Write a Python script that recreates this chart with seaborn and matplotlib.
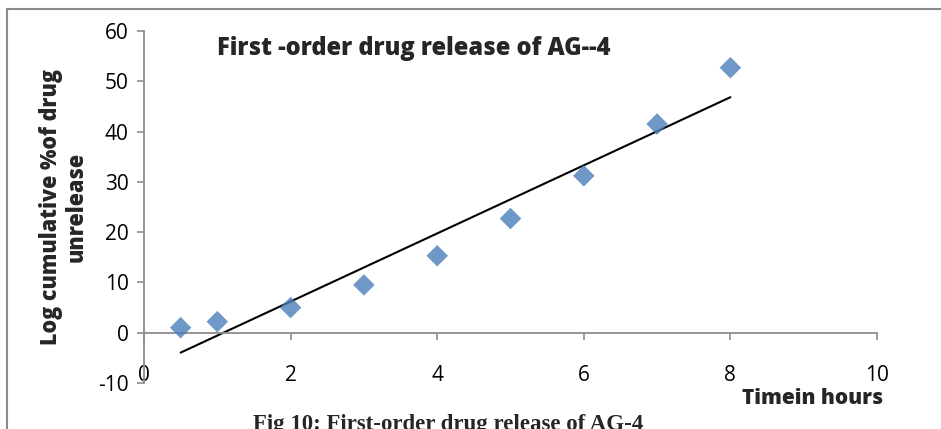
import matplotlib
matplotlib.use("Agg")
import matplotlib.pyplot as plt
import seaborn as sns
import pandas as pd
from matplotlib.lines import Line2D

time_hours = [0.5, 1, 2, 3, 4, 5, 6, 7, 8]
log_unreleased = [1.0, 2.2, 5.0, 9.5, 15.3, 22.7, 31.2, 41.5, 52.7]
x_ticks = [0, 2, 4, 6, 8, 10]
y_ticks = [-10, 0, 10, 20, 30, 40, 50, 60]

sns.set_style("white")
plt.rcParams['font.family'] = ['Open Sans', 'DejaVu Sans']

df = pd.DataFrame({"time": time_hours, "value": log_unreleased})

fig = plt.figure(figsize=(9.41, 4.29), dpi=100)
ax = fig.add_axes([144/941, 1-383/429, (877-144)/941, (383-31)/429])

axis_col = "#8c8c8c"
sns.regplot(data=df, x="time", y="value", ax=ax, ci=None, truncate=True,
            marker="D",
            scatter_kws=dict(s=120, color="#4a7ebb", edgecolor="none", zorder=3),
            line_kws=dict(color="black", lw=1.5, zorder=2))

for s in ["top", "right"]:
    ax.spines[s].set_visible(False)
ax.spines["bottom"].set_position(("data", 0))
ax.spines["left"].set_color(axis_col)
ax.spines["left"].set_linewidth(1.3)
ax.spines["bottom"].set_color(axis_col)
ax.spines["bottom"].set_linewidth(1.3)

ax.set_xlim(0, 10)
ax.set_ylim(-10, 60)
ax.set_xticks(x_ticks)
ax.set_yticks(y_ticks)
ax.set_xticklabels([str(t) for t in x_ticks])
ax.set_yticklabels([str(t) for t in y_ticks])

ax.tick_params(axis="y", direction="out", length=5, width=1.2, color=axis_col,
               pad=6, left=True, labelsize=15, labelcolor="black")
ax.tick_params(axis="x", direction="out", length=5, width=1.2, color=axis_col,
               pad=18, bottom=True, labelsize=15, labelcolor="black")

ax.set_xlabel("")
ax.set_ylabel("Log cumulative %of drug\nunrelease", fontsize=15.5, fontweight=800,
              labelpad=7, linespacing=1.05)

ax.text(0.099, 0.95, "First -order drug release of AG--4", transform=ax.transAxes,
        fontsize=17, fontweight=800, ha="left", va="center")

fig.text(883/941, 1-398/429, "Timein hours", fontsize=15, fontweight=800,
         ha="right", va="center")

fig.text(253/941, -0.003, "Fig 10: First-order drug release of AG-4",
         fontsize=16.5, fontweight="bold", family=["Liberation Serif", "DejaVu Serif"],
         ha="left", va="baseline")

# outer chart border (left and top edges visible)
fig.add_artist(Line2D([7/941, 7/941], [-0.1, 1-9/429], transform=fig.transFigure,
                      color="#8a8a8a", lw=1.5))
fig.add_artist(Line2D([7/941, 1.1], [1-9/429, 1-9/429], transform=fig.transFigure,
                      color="#8a8a8a", lw=1.5))

fig.savefig("out.png", dpi=100)
